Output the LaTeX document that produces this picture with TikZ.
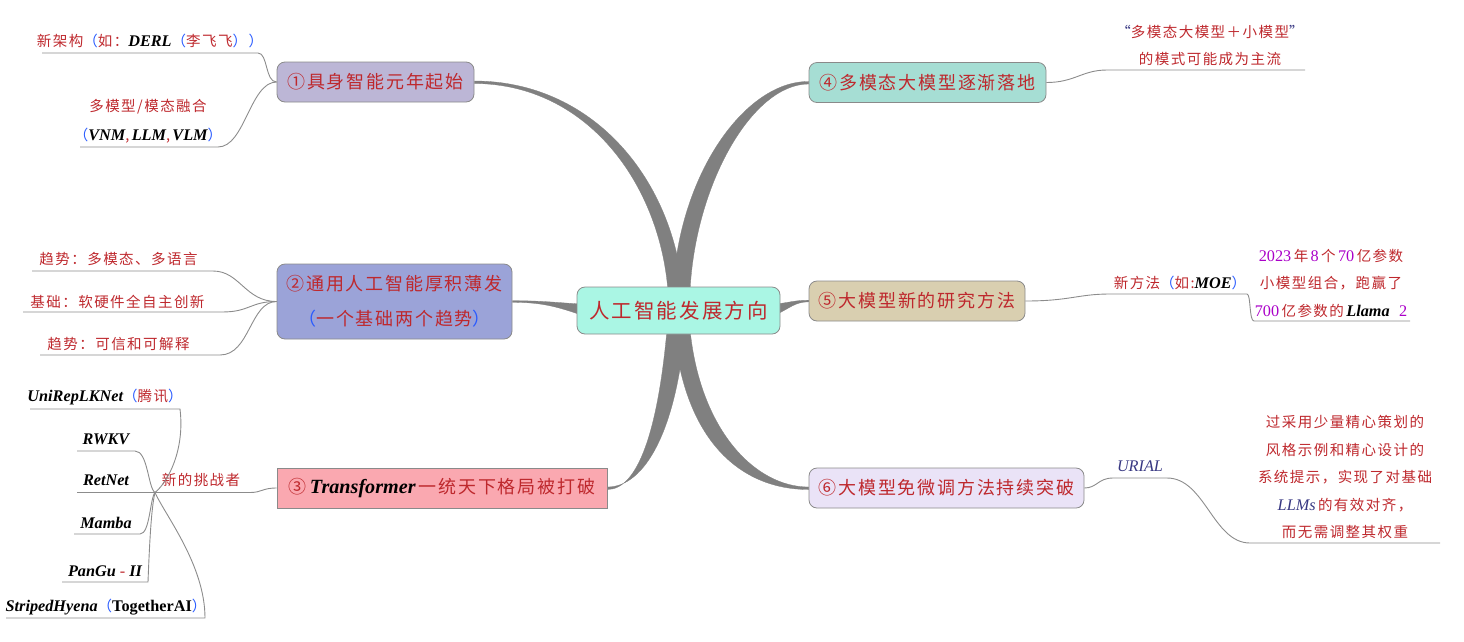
\documentclass[tikz,border=0pt]{standalone}
\usepackage{fontspec}
\setmainfont{Liberation Serif}
\newfontfamily\cjk[LetterSpace=10]{Noto Sans CJK SC}
\newfontfamily\en[Scale=1.12]{Liberation Serif}
\usetikzlibrary{calc}
\pgfdeclarelayer{background}
\pgfsetlayers{background,main}
\definecolor{tred}{RGB}{190,40,45}
\definecolor{tblue}{RGB}{40,90,255}
\definecolor{tmag}{RGB}{170,0,200}
\definecolor{tdb}{RGB}{55,55,130}
\definecolor{brc}{RGB}{128,128,128}
\definecolor{lnc}{RGB}{140,140,140}
\definecolor{bord}{RGB}{138,138,138}
\definecolor{fc}{RGB}{170,246,228}
\definecolor{fa}{RGB}{188,182,214}
\definecolor{fb}{RGB}{155,163,216}
\definecolor{fd}{RGB}{250,168,176}
\definecolor{fe}{RGB}{166,222,212}
\definecolor{ff}{RGB}{217,207,176}
\definecolor{fg}{RGB}{234,227,247}
\newcommand\Rd[1]{\textcolor{tred}{#1}}
\newcommand\Bl[1]{\textcolor{tblue}{#1}}
\newcommand\Mg[1]{{\color{tmag}\en #1}}
\newcommand\Bi[1]{{\color{black}\en\bfseries\itshape #1}}
\newcommand\Db[1]{{\color{tdb}\en\itshape #1}}
\begin{document}
\begin{tikzpicture}[x=1pt,y=-1pt,
 box/.style={draw=bord, line width=0.8pt, rounded corners=8pt, inner sep=0pt, align=center, text=tred, font=\cjk\fontsize{18}{35}\selectfont},
 leaf/.style={inner sep=0pt, align=center, text=tred, font=\cjk\fontsize{14.5}{27.5}\selectfont},
 conn/.style={draw=lnc, line width=0.9pt},
 branch/.style={fill=brc, draw=brc, line width=0.3pt}]
\useasboundingbox (0,0) rectangle (1464,641);

% main nodes
\node[box, fill=fc, minimum width=203pt, minimum height=47pt, font=\cjk\fontsize{20.5}{24}\selectfont] (c) at (678.5,310.5) {人工智能发展方向};
\node[box, fill=fa, minimum width=197pt, minimum height=40pt] (n1) at (375.5,82) {①具身智能元年起始};
\node[box, fill=fb, minimum width=235pt, minimum height=75pt] (n2) at (394.5,301.5) {②通用人工智能厚积薄发\\\Bl{（}一个基础两个趋势\Bl{）}};
\node[box, fill=fd, sharp corners, minimum width=330pt, minimum height=40pt] (n3) at (442,488) {③\,\Bi{Transformer}\,一统天下格局被打破};
\node[box, fill=fe, minimum width=237pt, minimum height=40pt] (n4) at (927.5,82.5) {④多模态大模型逐渐落地};
\node[box, fill=ff, minimum width=216pt, minimum height=40pt] (n5) at (917,301) {⑤大模型新的研究方法};
\node[box, fill=fg, minimum width=275pt, minimum height=40pt] (n6) at (946.5,488) {⑥大模型免微调方法持续突破};

% leaf texts
\node[leaf] (t1a) at (150,41) {新架构\Bl{（}如：\Bi{DERL}\Bl{（}李飞飞\Bl{））}};
\node[leaf, font=\cjk\fontsize{14.5}{29}\selectfont] (t1b) at (148,121.5) {多模型/模态融合\\\Bl{（}\Bi{VNM}\Rd{,\,}\Bi{LLM}\Rd{,\,}\Bi{VLM}\Bl{）}};
\node[leaf] (t2a) at (118.5,259) {趋势：多模态、多语言};
\node[leaf] (t2b) at (117.5,301.5) {基础：软硬件全自主创新};
\node[leaf] (t2c) at (118.5,343.5) {趋势：可信和可解释};
\node[leaf] (t3) at (201,480) {新的挑战者};
\node[leaf] (s1) at (105,397) {\Bi{UniRepLKNet}\Bl{（}腾讯\Bl{）}};
\node[leaf] (s2) at (106,439) {\Bi{RWKV}};
\node[leaf] (s3) at (106,480) {\Bi{RetNet}};
\node[leaf] (s4) at (106,523) {\Bi{Mamba}};
\node[leaf] (s5) at (105,571) {\Bi{PanGu}\Rd{\en\ -\ }\Bi{II}};
\node[leaf] (s6) at (106,607) {\Bi{StripedHyena}\Bl{（}{\color{black}\en\bfseries TogetherAI}\Bl{）}};
\node[leaf] (t4) at (1210,45.5) {{\color{tdb}“}多模态大模型＋小模型{\color{tdb}”}\\的模式可能成为主流};
\node[leaf] (t5a) at (1180,283) {新方法\Bl{（}如:\Bi{MOE}\Bl{）}};
\node[leaf] (t5b) at (1331,283) {\Mg{2023}\,年\,\Mg{8}\,个\,\Mg{70}\,亿参数\\小模型组合，跑赢了\\\Mg{700}\,亿参数的\,\Bi{Llama}\ \ \Mg{2}};
\node[leaf] (t6a) at (1140,466) {\Db{URIAL}};
\node[leaf] (t6b) at (1345,477) {过采用少量精心策划的\\风格示例和精心设计的\\系统提示，实现了对基础\\\Db{LLMs}\,的有效对齐，\\而无需调整其权重};

% underline coordinates
\coordinate (a1) at (42,53);   \coordinate (a1e) at (258,53);
\coordinate (b1) at (80,147);  \coordinate (b1e) at (218,147);
\coordinate (a2) at (32,271);  \coordinate (a2e) at (213,271);
\coordinate (b2) at (23,312);  \coordinate (b2e) at (222,312);
\coordinate (c2) at (40,355);  \coordinate (c2e) at (220,355);
\coordinate (j3) at (155,492.5); \coordinate (k3) at (250,492.5);
\coordinate (u1) at (30,409);  \coordinate (u1e) at (180,409);
\coordinate (u2) at (77,451);  \coordinate (u2e) at (135,451);
\coordinate (u3) at (77,492.5);
\coordinate (u4) at (74,534);  \coordinate (u4e) at (140,534);
\coordinate (u5) at (62,582);  \coordinate (u5e) at (148,582);
\coordinate (u6) at (6,618);   \coordinate (u6e) at (205,618);
\coordinate (v4) at (1107,70); \coordinate (v4e) at (1305,70);
\coordinate (v5) at (1110,294); \coordinate (v5m) at (1247,294);
\coordinate (v5n) at (1254,321); \coordinate (v5e) at (1410,321);
\coordinate (v6) at (1113,478); \coordinate (v6m) at (1167,478);
\coordinate (v6n) at (1250,543); \coordinate (v6e) at (1440,543);

% thin connectors
\draw[conn] (a1) -- (a1e) .. controls (268,53) and (265,82) .. (n1.west);
\draw[conn] (b1) -- (b1e) .. controls (245,147) and (250,82) .. (n1.west);
\draw[conn] (a2) -- (a2e) .. controls (240,271) and (245,301.5) .. (n2.west);
\draw[conn] (b2) -- (b2e) .. controls (250,312) and (250,301.5) .. (n2.west);
\draw[conn] (c2) -- (c2e) .. controls (250,355) and (250,301.5) .. (n2.west);
\draw[conn] (n3.west) .. controls (262,488) and (262,492.5) .. (k3) -- (j3);
\draw[conn] (u1) -- (u1e) .. controls (185,450) and (168,482) .. (j3);
\draw[conn] (u2) -- (u2e) .. controls (148,451) and (148,488) .. (j3);
\draw[conn] (u3) -- (j3);
\draw[conn] (u4) -- (u4e) .. controls (150,534) and (150,498) .. (j3);
\draw[conn] (u5) -- (u5e) .. controls (150,530) and (152,505) .. (j3);
\draw[conn] (u6) -- (u6e) .. controls (205,565) and (165,515) .. (j3);
\draw[conn] (n4.east) .. controls (1075,82.5) and (1082,70) .. (v4) -- (v4e);
\draw[conn] (n5.east) .. controls (1070,301) and (1078,294) .. (v5) -- (v5m) .. controls (1251,294) and (1249,321) .. (v5n) -- (v5e);
\draw[conn] (n6.east) .. controls (1097,488) and (1098,478) .. (v6) -- (v6m) .. controls (1205,478) and (1213,543) .. (v6n) -- (v6e);

% thick branches
\begin{pgfonlayer}{background}
\path[branch] ($(n1.east)+(0,-1)$) .. controls (590,81) and (672,175) .. ($(c.north)+(4.5,5)$) -- ($(c.north)+(-10.5,5)$) .. controls (660,185) and (588,84) .. ($(n1.east)+(0,1.5)$) -- cycle;
\path[branch] ($(n4.west)+(0,-1)$) .. controls (745,81) and (678,175) .. ($(c.north)+(-5.5,5)$) -- ($(c.north)+(11.5,5)$) .. controls (695,185) and (752,84) .. ($(n4.west)+(0,1.5)$) -- cycle;
\path[branch] ($(c.south)+(6.5,-5)$) .. controls (676,430) and (645,487) .. ($(n3.east)+(0,-1)$) -- ($(n3.east)+(0,1.5)$) .. controls (638,489.5) and (658,430) .. ($(c.south)+(-11.5,-5)$) -- cycle;
\path[branch] ($(c.south)+(-4.5,-5)$) .. controls (684,440) and (740,489.5) .. ($(n6.west)+(0,1.5)$) -- ($(n6.west)+(0,-1)$) .. controls (755,487) and (700,430) .. ($(c.south)+(11.5,-5)$) -- cycle;
\path[branch] ($(n2.east)+(0,-0.8)$) .. controls (545,300.7) and (560,303) .. ($(c.west)+(5,-6.5)$) -- ($(c.west)+(5,4.5)$) .. controls (560,308) and (545,302.3) .. ($(n2.east)+(0,0.8)$) -- cycle;
\path[branch] ($(c.east)+(-5,-6.5)$) .. controls (790,302.5) and (795,300.2) .. ($(n5.west)+(0,-0.8)$) -- ($(n5.west)+(0,0.8)$) .. controls (795,302) and (790,308) .. ($(c.east)+(-5,4.5)$) -- cycle;
\end{pgfonlayer}
\end{tikzpicture}
\end{document}
